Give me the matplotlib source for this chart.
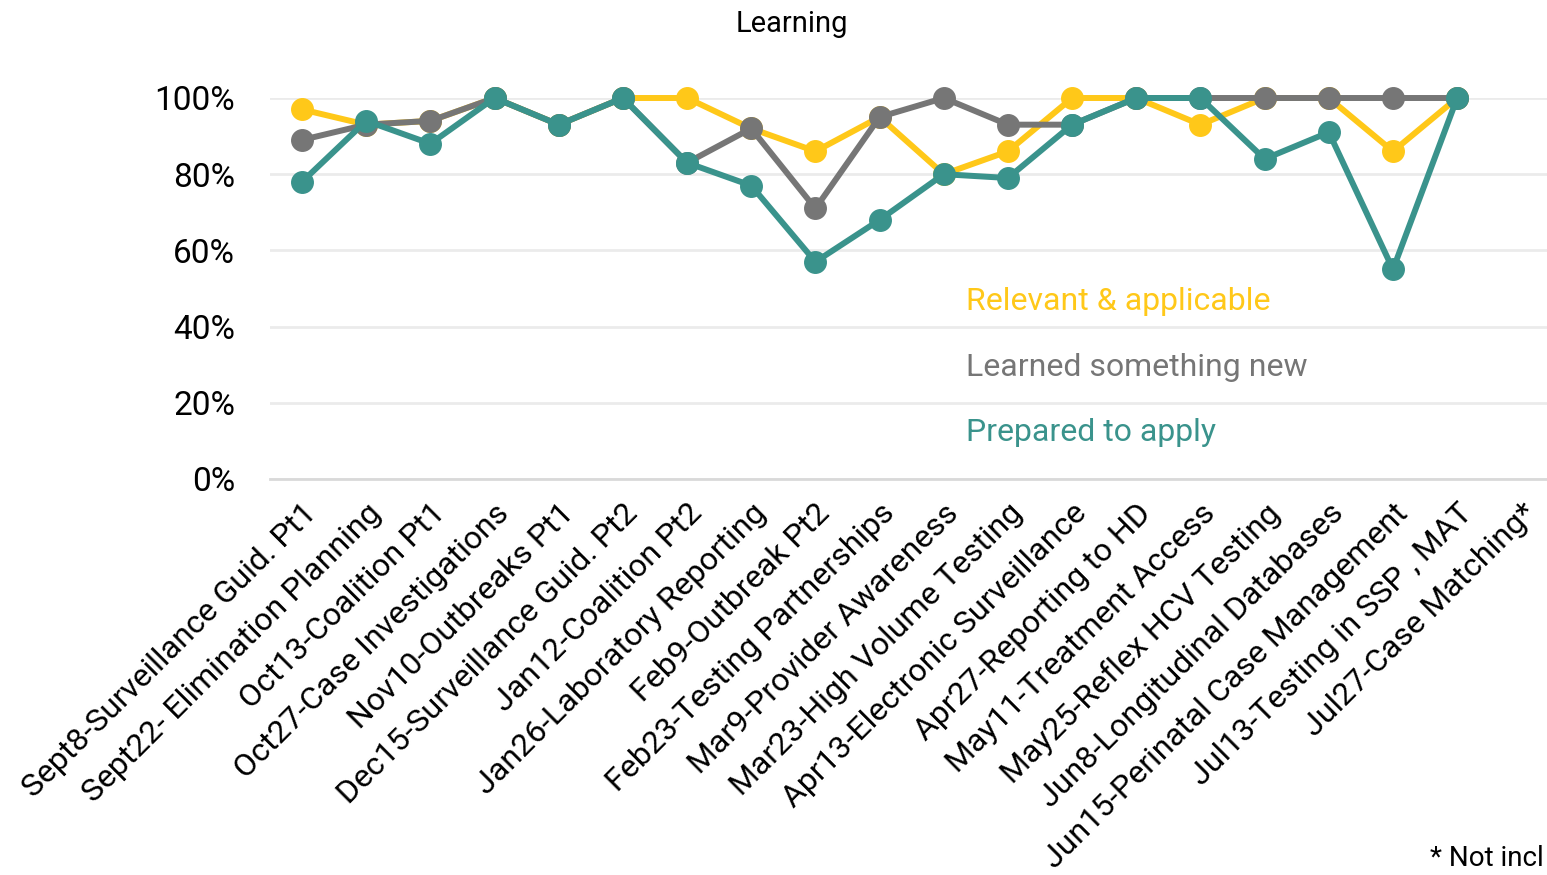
import matplotlib
matplotlib.use("Agg")
import matplotlib.pyplot as plt
from matplotlib.ticker import PercentFormatter

plt.rcParams['font.family'] = ['Roboto', 'DejaVu Sans']

# sessions
categories = [
    "Sept8-Surveillance Guid. Pt1", "Sept22- Elimination Planning",
    "Oct13-Coalition Pt1", "Oct27-Case Investigations",
    "Nov10-Outbreaks Pt1", "Dec15-Surveillance Guid. Pt2",
    "Jan12-Coalition Pt2", "Jan26-Laboratory Reporting",
    "Feb9-Outbreak Pt2", "Feb23-Testing Partnerships",
    "Mar9-Provider Awareness", "Mar23-High Volume Testing",
    "Apr13-Electronic Surveillance", "Apr27-Reporting to HD",
    "May11-Treatment Access", "May25-Reflex HCV Testing",
    "Jun8-Longitudinal Databases", "Jun15-Perinatal Case Management",
    "Jul13-Testing in SSP , MAT", "Jul27-Case Matching*",
]

# percent values (Jul27 not included)
relevant = [97, 93, 94, 100, 93, 100, 100, 92, 86, 95,
            80, 86, 100, 100, 93, 100, 100, 86, 100, None]
learned = [89, 93, 94, 100, 93, 100, 83, 92, 71, 95,
           100, 93, 93, 100, 100, 100, 100, 100, 100, None]
prepared = [78, 94, 88, 100, 93, 100, 83, 77, 57, 68,
            80, 79, 93, 100, 100, 84, 91, 55, 100, None]

series = [
    ("Relevant & applicable", relevant, "#FFC819"),
    ("Learned something new", learned, "#767676"),
    ("Prepared to apply", prepared, "#3A938C"),
]

fig = plt.figure(figsize=(15.47, 8.75), dpi=100)
ax = fig.add_axes([0.1745, 0.4526, 0.8255, 0.4354])

x = list(range(len(categories)))
for name, vals, col in series:
    xs = [i for i, v in zip(x, vals) if v is not None]
    ys = [v for v in vals if v is not None]
    ax.plot(xs, ys, color=col, lw=4.3, marker='o', ms=15.5, clip_on=False)

# legend as coloured text
for k, (name, vals, col) in enumerate(series):
    ax.text(10.35, 46.5 - k * 17.2, name, color=col, fontsize=23,
            va='center', ha='left')

ax.set_xlim(-0.5, 19.4)
ax.set_ylim(0, 100)
ax.set_yticks([0, 20, 40, 60, 80, 100])
ax.yaxis.set_major_formatter(PercentFormatter(decimals=0))
ax.grid(axis='y', color='#EBEBEB', lw=2)
ax.set_axisbelow(True)
for s in ['top', 'right', 'left']:
    ax.spines[s].set_visible(False)
ax.spines['bottom'].set_color('#D9D9D9')
ax.spines['bottom'].set_linewidth(2)
ax.tick_params(length=0, labelsize=24)
ax.tick_params(axis='y', pad=25)
ax.set_xticks(x)
ax.set_xticklabels(categories, rotation=45, ha='right', rotation_mode='anchor',
                   fontsize=23)
ax.tick_params(axis='x', pad=14)

fig.text(0.512, 0.972, "Learning", ha='center', va='center', fontsize=21)
fig.text(0.998, 0.019, "* Not incl", ha='right', va='center', fontsize=20)

fig.savefig("out.png", dpi=100)
